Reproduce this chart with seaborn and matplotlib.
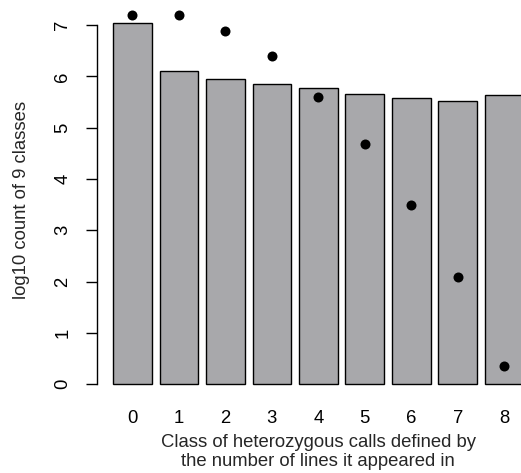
import matplotlib
matplotlib.use("Agg")
import matplotlib.pyplot as plt
import seaborn as sns
import numpy as np
import pandas as pd

# ---- data ----
classes = ["0", "1", "2", "3", "4", "5", "6", "7", "8"]
bar_values = [7.04, 6.10, 5.94, 5.86, 5.78, 5.66, 5.57, 5.51, 5.63]
point_values = [7.19, 7.19, 6.89, 6.39, 5.59, 4.68, 3.49, 2.08, 0.36]
y_ticks = [0, 1, 2, 3, 4, 5, 6, 7]
x_label = "Class of heterozygous calls defined by\nthe number of lines it appeared in"
y_label = "log10 count of 9 classes"

df = pd.DataFrame({"cls": classes, "bar": bar_values, "pt": point_values})

sns.set_style("white")
plt.rcParams["font.family"] = ["Liberation Sans", "DejaVu Sans"]
FS = 13.3
plt.rcParams["font.size"] = FS

W, H = 521, 473
fig = plt.figure(figsize=(W / 100, H / 100), dpi=100)
# plot region in pixels: x 96.7 .. 540 (cropped by the figure), y 0 .. 399
left_px, right_px, top_px, bot_px = 96.7, 540.0, 0.0, 399.0
ax = fig.add_axes([left_px / W, (H - bot_px) / H, (right_px - left_px) / W, (bot_px - top_px) / H])

sns.barplot(data=df, x="cls", y="bar", ax=ax, color="#A8A8AB", saturation=1,
            width=0.833, edgecolor="black", linewidth=1.0)
sns.stripplot(data=df, x="cls", y="pt", ax=ax, color="black", jitter=False,
              size=7.2, linewidth=0, zorder=5)

ax.set_xlim(-0.77, 8.77)
ax.set_ylim(-0.288, 7.488)

for s in ["top", "right", "bottom"]:
    ax.spines[s].set_visible(False)
ax.spines["left"].set_bounds(0, 7)
ax.spines["left"].set_color("black")
ax.spines["left"].set_linewidth(1.0)

ax.set_yticks(y_ticks)
ax.set_yticklabels([str(t) for t in y_ticks])
ax.tick_params(axis="y", length=7.9, width=1.0, color="black", left=True,
               pad=16.4, labelsize=FS, labelcolor="black")
ax.tick_params(axis="x", length=0, pad=14.2, labelsize=FS, labelcolor="black")
plt.setp(ax.get_yticklabels(), rotation=90, ha="center", va="center")
plt.setp(ax.get_xticklabels(), va="center")

ax.set_xlabel(x_label, fontsize=FS, linespacing=1.2, va="center", ha="center")
ax.set_ylabel(y_label, fontsize=FS, va="center", ha="center")
ax.xaxis.set_label_coords(0.5, -(452.0 - bot_px) / (bot_px - top_px))
ax.yaxis.set_label_coords((22 - left_px) / (right_px - left_px), 0.5)

fig.savefig("out.png", dpi=100)
